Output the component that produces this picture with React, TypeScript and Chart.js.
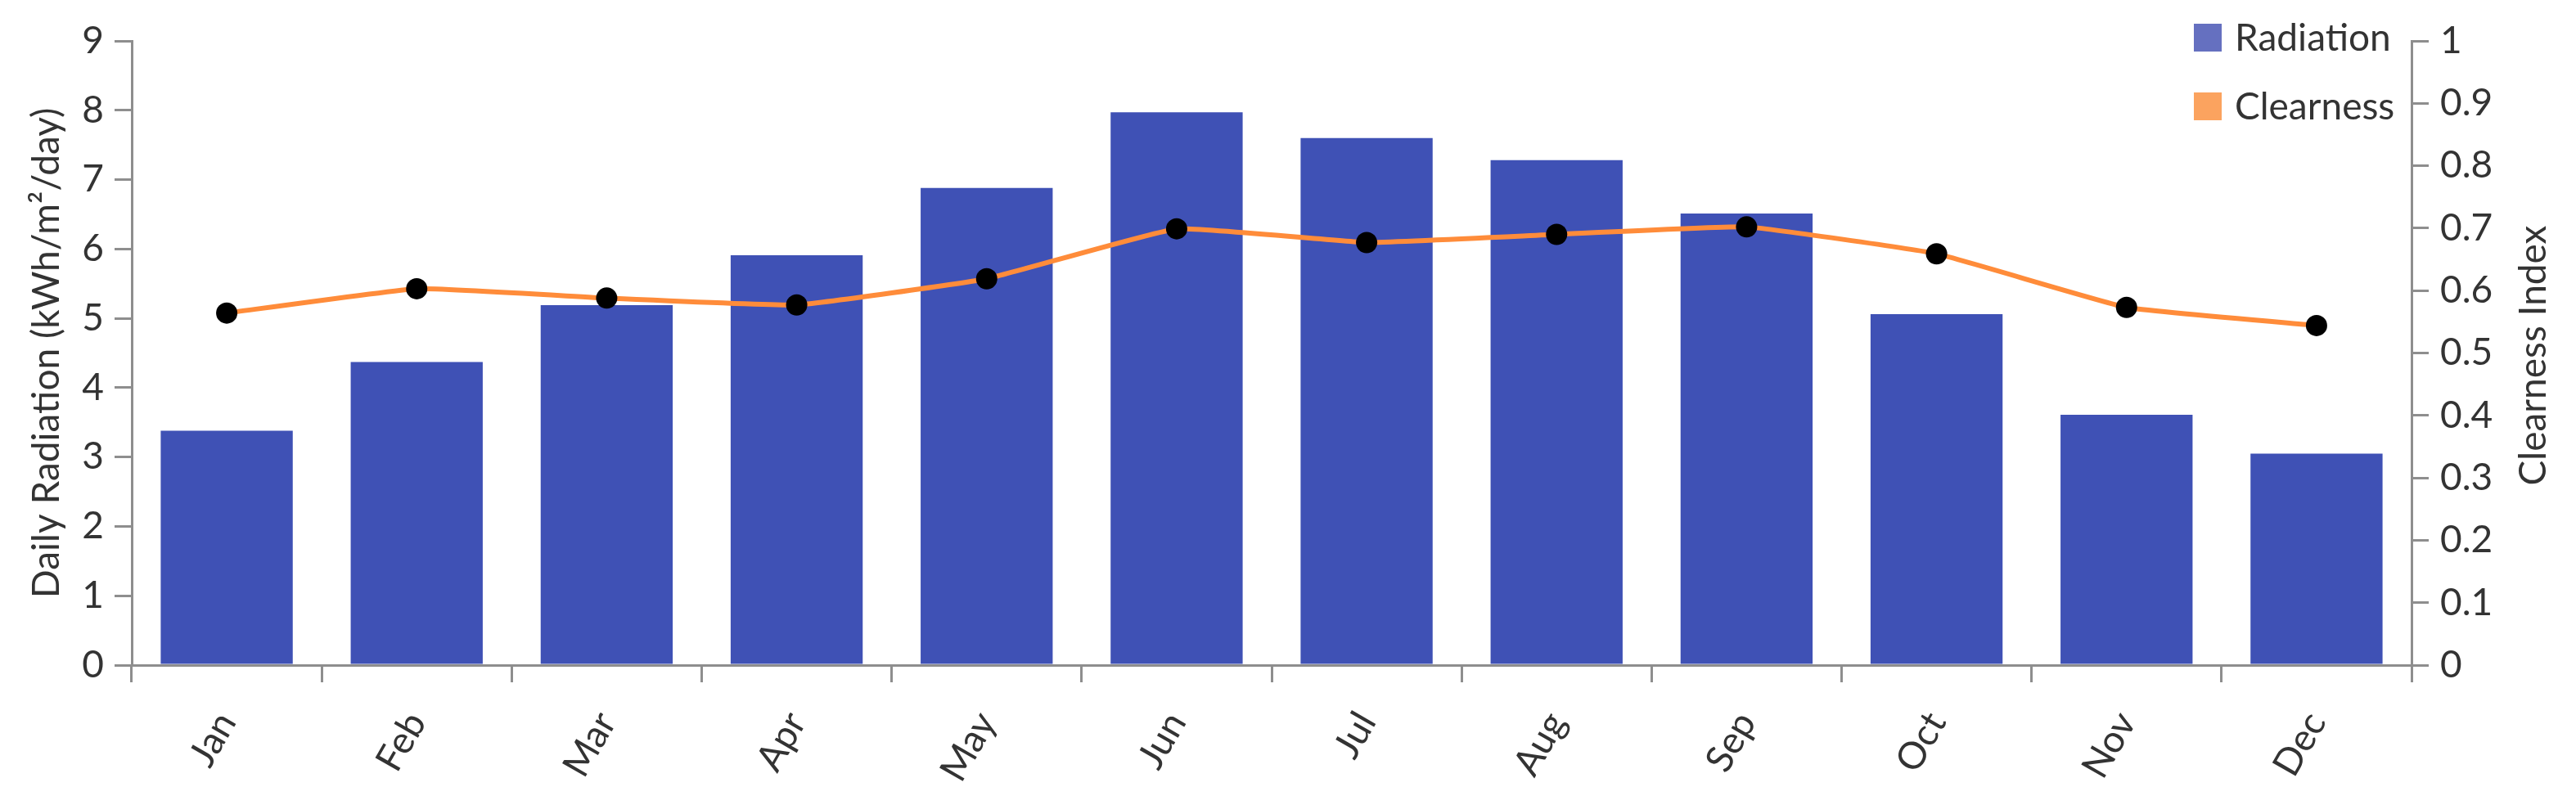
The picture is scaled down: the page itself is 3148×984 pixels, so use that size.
import React, { useEffect, useRef } from 'react';
import { Chart, registerables } from 'chart.js';

Chart.register(...registerables);

const months = ['Jan', 'Feb', 'Mar', 'Apr', 'May', 'Jun', 'Jul', 'Aug', 'Sep', 'Oct', 'Nov', 'Dec'];
const radiation = [3.38, 4.37, 5.19, 5.91, 6.88, 7.97, 7.6, 7.28, 6.51, 5.06, 3.61, 3.05];
const clearness = [0.564, 0.603, 0.588, 0.577, 0.619, 0.699, 0.677, 0.69, 0.702, 0.659, 0.573, 0.544];
const radiationTicks = ['0', '1', '2', '3', '4', '5', '6', '7', '8', '9'];
const clearnessTicks = ['0', '0.1', '0.2', '0.3', '0.4', '0.5', '0.6', '0.7', '0.8', '0.9', '1'];
const seriesNames = ['Radiation', 'Clearness'];
const axisTitles = ['Daily Radiation (kWh/m²/day)', 'Clearness Index'];

const BAR_COLOR = '#3F51B5';
const LINE_COLOR = '#FF8C3A';
const LEGEND_COLORS = ['#6570C0', '#FBA35F'];
const AXIS_COLOR = '#8E8E8E';
const TEXT_COLOR = '#333333';
const FONT_FAMILY = '"Segoe UI", Lato, sans-serif';
const FONT_SIZE = 46;

const legendPlugin = {
  id: 'cornerLegend',
  afterDraw(chart: any) {
    const { ctx, chartArea } = chart;
    ctx.save();
    ctx.font = `${FONT_SIZE}px ${FONT_FAMILY}`;
    ctx.textBaseline = 'middle';
    ctx.textAlign = 'left';
    chart.data.datasets.forEach((ds: any, i: number) => {
      const cy = 46 + i * 84;
      ctx.fillStyle = LEGEND_COLORS[i];
      ctx.fillRect(chartArea.right - 266, cy - 17, 34, 34);
      ctx.fillStyle = TEXT_COLOR;
      ctx.fillText(ds.label, chartArea.right - 216, cy + 1);
    });
    ctx.restore();

    // right axis title, reading bottom-to-top like the left one
    const s = chart.scales.y1;
    ctx.save();
    ctx.font = `${FONT_SIZE}px ${FONT_FAMILY}`;
    ctx.fillStyle = TEXT_COLOR;
    ctx.textAlign = 'center';
    ctx.textBaseline = 'middle';
    ctx.translate(s.right - 52, (chartArea.top + chartArea.bottom) / 2 + 3);
    ctx.rotate(-Math.PI / 2);
    ctx.fillText(axisTitles[1], 0, 0);
    ctx.restore();
  },
};

export default function App() {
  const canvasRef = useRef<HTMLCanvasElement | null>(null);

  useEffect(() => {
    if (!canvasRef.current) return;
    const font = { family: FONT_FAMILY, size: FONT_SIZE };
    const chart = new Chart(canvasRef.current, {
      type: 'bar',
      data: {
        labels: months,
        datasets: [
          {
            type: 'bar',
            label: seriesNames[0],
            data: radiation,
            backgroundColor: BAR_COLOR,
            borderWidth: 0,
            categoryPercentage: 1,
            barPercentage: 0.695,
            yAxisID: 'y',
            order: 2,
          },
          {
            type: 'line',
            label: seriesNames[1],
            data: clearness,
            borderColor: LINE_COLOR,
            borderWidth: 6,
            tension: 0.1,
            pointRadius: 13,
            pointBackgroundColor: '#000000',
            pointBorderWidth: 0,
            yAxisID: 'y1',
            order: 1,
          } as any,
        ],
      },
      options: {
        responsive: false,
        animation: false,
        layout: { padding: { top: 50, left: 0, right: 0, bottom: 0 } },
        plugins: {
          legend: { display: false },
          title: { display: false },
          tooltip: { enabled: false },
        },
        scales: {
          x: {
            offset: true,
            grid: {
              display: true,
              drawOnChartArea: false,
              offset: true,
              tickLength: 21,
              color: AXIS_COLOR,
              lineWidth: 3,
            },
            border: { display: true, color: AXIS_COLOR, width: 3 },
            ticks: {
              minRotation: 60,
              maxRotation: 60,
              autoSkip: false,
              padding: 27,
              color: TEXT_COLOR,
              font,
            },
            afterFit: (s: any) => {
              s.height = 171;
            },
          },
          y: {
            position: 'left',
            min: 0,
            max: 9,
            ticks: {
              stepSize: 1,
              padding: 13,
              color: TEXT_COLOR,
              font,
              callback: (v: any) => radiationTicks[Math.round(Number(v))],
            },
            grid: {
              drawOnChartArea: false,
              tickLength: 21,
              color: AXIS_COLOR,
              lineWidth: 3,
            },
            border: { display: true, color: AXIS_COLOR, width: 3 },
            title: {
              display: true,
              text: axisTitles[0],
              color: TEXT_COLOR,
              font,
              padding: { top: 30, bottom: 0 },
            },
            afterFit: (s: any) => {
              s.width = 161;
            },
          },
          y1: {
            position: 'right',
            min: 0,
            max: 1,
            ticks: {
              stepSize: 0.1,
              padding: 14,
              color: TEXT_COLOR,
              font,
              callback: (v: any) => clearnessTicks[Math.round(Number(v) * 10)],
            },
            grid: {
              drawOnChartArea: false,
              tickLength: 21,
              color: AXIS_COLOR,
              lineWidth: 3,
            },
            border: { display: true, color: AXIS_COLOR, width: 3 },
            title: { display: false },
            afterFit: (s: any) => {
              s.width = 201;
            },
          },
        },
      } as any,
      plugins: [legendPlugin],
    });
    return () => chart.destroy();
  }, []);

  return (
    <div style={{ position: 'fixed', left: 0, top: 0, width: 3148, height: 984, background: '#ffffff' }}>
      <canvas ref={canvasRef} width={3148} height={984} style={{ display: 'block' }} />
    </div>
  );
}
